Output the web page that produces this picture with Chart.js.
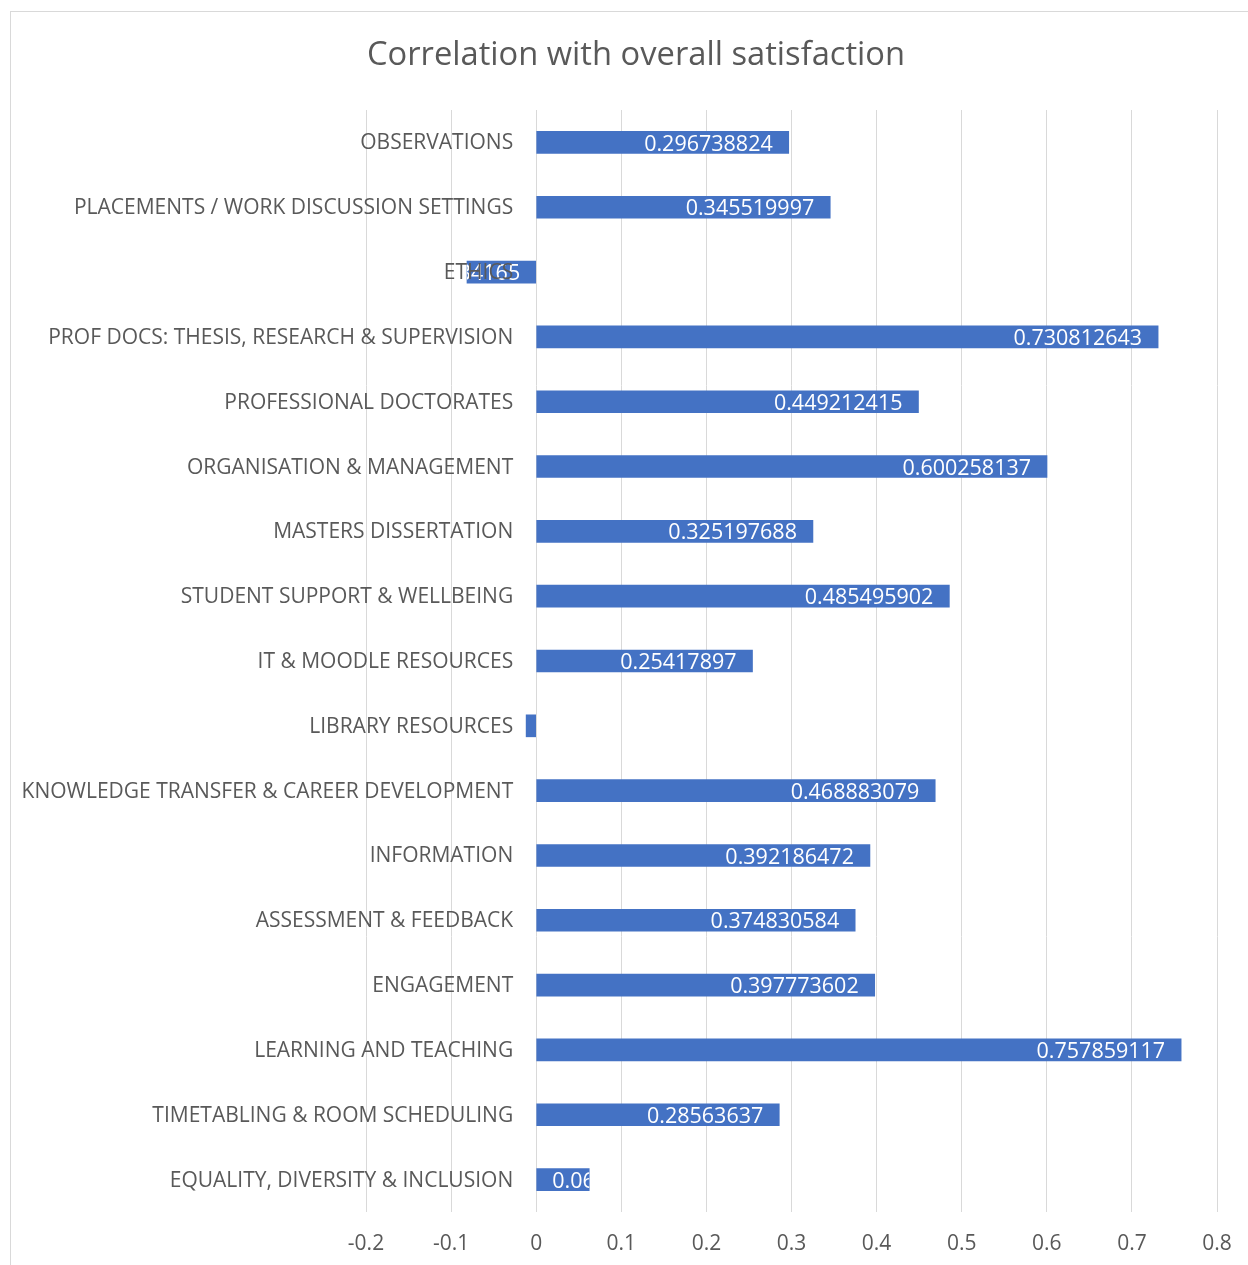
<!DOCTYPE html>
<html>
<head>
<meta charset="utf-8">
<script src="https://cdn.jsdelivr.net/npm/chart.js@4.4.0/dist/chart.umd.min.js"></script>
<style>
  html, body { margin: 0; padding: 0; background: #fff; }
  #wrap { position: relative; width: 1248px; height: 1265px; }
</style>
</head>
<body>
<div id="wrap"><canvas id="chart" width="1248" height="1265"></canvas></div>
<script>
// Data
const categories = [
    'OBSERVATIONS',
    'PLACEMENTS / WORK DISCUSSION SETTINGS',
    'ETHICS',
    'PROF DOCS: THESIS, RESEARCH & SUPERVISION',
    'PROFESSIONAL DOCTORATES',
    'ORGANISATION & MANAGEMENT',
    'MASTERS DISSERTATION',
    'STUDENT SUPPORT & WELLBEING',
    'IT & MOODLE RESOURCES',
    'LIBRARY RESOURCES',
    'KNOWLEDGE TRANSFER & CAREER DEVELOPMENT',
    'INFORMATION',
    'ASSESSMENT & FEEDBACK',
    'ENGAGEMENT',
    'LEARNING AND TEACHING',
    'TIMETABLING & ROOM SCHEDULING',
    'EQUALITY, DIVERSITY & INCLUSION'
];
const correlation = [
    0.296738824, 0.345519997, -0.081334165, 0.730812643, 0.449212415,
    0.600258137, 0.325197688, 0.485495902, 0.25417897, -0.011842706,
    0.468883079, 0.392186472, 0.374830584, 0.397773602, 0.757859117,
    0.28563637, 0.062311579
];
const xTicks = [-0.2, -0.1, 0, 0.1, 0.2, 0.3, 0.4, 0.5, 0.6, 0.7, 0.8];

const FONT = "'Open Sans', sans-serif";
const GREY = '#595959';

// Title, frame, category labels and data labels drawn by hand (Excel-style)
const excelLook = {
    id: 'excelLook',
    beforeDraw(chart) {
        const ctx = chart.ctx;
        ctx.save();
        ctx.strokeStyle = '#d9d9d9';
        ctx.lineWidth = 1;
        ctx.strokeRect(10.5, 11.5, 1260, 1280);
        ctx.fillStyle = GREY;
        ctx.font = `32.7px ${FONT}`;
        ctx.textAlign = 'center';
        ctx.textBaseline = 'middle';
        ctx.fillText('Correlation with overall satisfaction', 636, 56);
        ctx.restore();
    },
    afterDatasetsDraw(chart) {
        const ctx = chart.ctx;
        const xs = chart.scales.x;
        const x0 = xs.getPixelForValue(0);
        const meta = chart.getDatasetMeta(0);
        ctx.save();
        ctx.textBaseline = 'middle';
        meta.data.forEach((bar, i) => {
            const v = correlation[i];
            const y = bar.y;
            const txt = String(v);
            ctx.font = `21.5px ${FONT}`;
            const w = ctx.measureText(txt).width;
            let right;
            if (v >= 0) {
                right = bar.x - 16;
                if (right - w < x0 + 16) right = x0 + 16 + w;
            } else {
                right = x0 - 16;
            }
            // clip label to the bar (white text over white disappears anyway)
            const left = Math.min(bar.x, x0), bw = Math.abs(bar.x - x0);
            ctx.save();
            ctx.beginPath();
            ctx.rect(left, y - bar.height / 2, bw, bar.height);
            ctx.clip();
            ctx.fillStyle = '#ffffff';
            ctx.textAlign = 'right';
            ctx.fillText(txt, right, y + 2);
            ctx.restore();

            // category label next to the zero axis
            ctx.font = `21px ${FONT}`;
            ctx.fillStyle = GREY;
            ctx.textAlign = 'right';
            ctx.fillText(categories[i], x0 - 23, y + 1);
        });
        ctx.restore();
    }
};

new Chart(document.getElementById('chart'), {
    type: 'bar',
    data: {
        labels: categories,
        datasets: [{
            data: correlation,
            backgroundColor: '#4472c4',
            borderWidth: 0,
            barThickness: 22
        }]
    },
    options: {
        indexAxis: 'y',
        responsive: false,
        animation: false,
        layout: { padding: { left: 366, right: 31, top: 110, bottom: 0 } },
        plugins: {
            legend: { display: false },
            tooltip: { enabled: false },
            title: { display: false }
        },
        scales: {
            x: {
                min: -0.2,
                max: 0.8,
                afterBuildTicks: (scale) => { scale.ticks = xTicks.map(v => ({ value: v })); },
                afterFit: (scale) => {
                    scale.height = 53;
                    scale.paddingLeft = 0;
                    scale.paddingRight = 0;
                },
                grid: { color: '#d9d9d9', drawTicks: false },
                border: { display: false },
                ticks: {
                    color: GREY,
                    font: { family: FONT, size: 21 },
                    padding: 19,
                    callback: (v) => String(Math.round(v * 10) / 10)
                }
            },
            y: { display: false }
        }
    },
    plugins: [excelLook]
});
</script>
</body>
</html>
